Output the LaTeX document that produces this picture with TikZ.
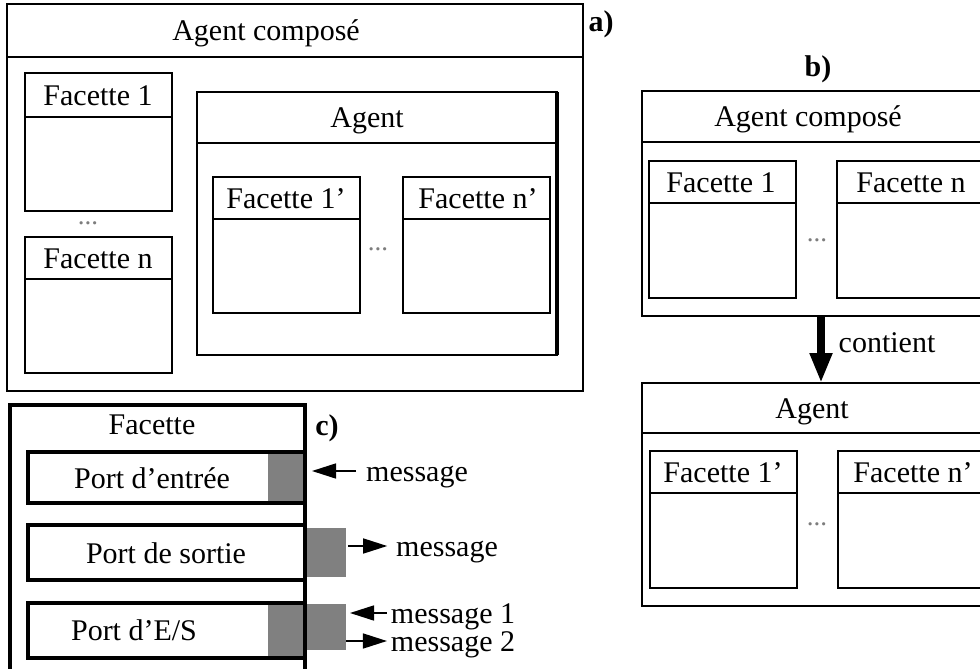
\documentclass[tikz,border=0pt]{standalone}
\usepackage{fontspec}
\setmainfont{Liberation Serif}
\usetikzlibrary{arrows.meta}

\definecolor{portgray}{RGB}{128,128,128}
\definecolor{dotgray}{RGB}{125,125,125}

\tikzset{
  thinbox/.style={draw, rectangle, line width=1.8pt, inner sep=0pt, outer sep=0pt},
  thinline/.style={line width=1.8pt},
  thickbox/.style={draw, rectangle, line width=3.8pt, inner sep=0pt, outer sep=0pt},
  grayblock/.style={rectangle, fill=portgray, inner sep=0pt, outer sep=0pt},
  lbl/.style={inner sep=0pt, outer sep=0pt, text height=20pt, text depth=0pt,
              font=\fontsize{30pt}{36pt}\selectfont},
  tag/.style={lbl, font=\fontsize{30pt}{36pt}\selectfont\bfseries},
  dots/.style={inner sep=0pt, outer sep=0pt, text=dotgray, text height=4pt, text depth=0pt,
               font=\fontsize{27pt}{30pt}\selectfont},
  msgarrow/.style={line width=1.6pt, -{Triangle[length=24pt,width=15pt]}},
  bigarrow/.style={line width=8pt, -{Triangle[length=30pt,width=21pt]}},
}

% a box given by its corners (x1,y1) (x2,y2), with a title band ending at y = #6
% #1 name, #2 x1, #3 y1, #4 x2, #5 y2, #6 title line y, #7 title x, #8 title
\newcommand{\hdrbox}[8]{%
  \node[thinbox, fill=white, minimum width={(#4-#2)*1pt}, minimum height={(#5-#3)*1pt}]
    (#1) at ({(#2+#4)/2},{(#3+#5)/2}) {};
  \draw[thinline] (#1.west |- 0,#6) -- (#1.east |- 0,#6);
  \node[lbl] (#1-title) at (#7,{(#3+#6)/2}) {#8};
}
% a plain rectangle given by its corners, with a style
\newcommand{\cornerbox}[6]{%
  \node[#6, minimum width={(#4-#2)*1pt}, minimum height={(#5-#3)*1pt}]
    (#1) at ({(#2+#4)/2},{(#3+#5)/2}) {};
}

\begin{document}
\begin{tikzpicture}[x=1pt, y=-1pt]
  \useasboundingbox (0,0) rectangle (980,669);
  \fill[white] (0,0) rectangle (980,669);
  \clip (0,0) rectangle (980,669);

  % ---------- a) composed agent holding an agent ----------
  \hdrbox{aOuter}{7}{4}{583}{391}{57}{266}{Agent composé}
  \node[tag] (aTag) at (601,22) {a)};
  \hdrbox{aFa}{25}{73}{172}{211}{117}{98}{Facette 1}
  \node[dots] (aDotsA) at (88,222) {...};
  \hdrbox{aFb}{25}{237}{172}{373}{279}{98}{Facette n}
  \hdrbox{aAgent}{197}{92}{557}{355}{143}{367}{Agent}
  \draw[line width=4pt] (aAgent.north east) -- (aAgent.south east);
  \hdrbox{aFc}{213}{177}{360}{313}{219}{286}{Facette 1’}
  \node[dots] (aDotsB) at (378,248) {...};
  \hdrbox{aFd}{403}{177}{550}{313}{219}{478}{Facette n’}

  % ---------- b) containment ----------
  \node[tag] (bTag) at (818,67) {b)};
  \hdrbox{bOuter}{642}{91}{1000}{316}{142}{808}{Agent composé}
  \hdrbox{bFa}{649}{161}{796}{298}{203}{721}{Facette 1}
  \node[dots] (bDotsA) at (817,239) {...};
  \hdrbox{bFb}{837}{161}{984}{298}{203}{911}{Facette n}

  \hdrbox{bAgent}{642}{383}{1000}{606}{433}{812}{Agent}
  \hdrbox{bFc}{650}{451}{797}{588}{493}{723}{Facette 1’}
  \node[dots] (bDotsB) at (817,523) {...};
  \hdrbox{bFd}{838}{451}{985}{588}{493}{913}{Facette n’}

  \draw[bigarrow] (bOuter.south) -- (bAgent.north);
  \node[lbl] (contient) at (887,342) {contient};

  % ---------- c) facet ports ----------
  \cornerbox{cOuter}{10}{405}{305}{720}{thickbox, fill=white}
  \node[lbl] (cTitle) at (152,424) {Facette};
  \node[tag] (cTag) at (327,425) {c)};

  \cornerbox{gIn}{268}{452}{305}{503}{grayblock}
  \cornerbox{gOut}{306}{528}{346}{577}{grayblock}
  \cornerbox{gIOin}{268}{603}{305}{658}{grayblock}
  \cornerbox{gIO}{306}{604}{346}{650}{grayblock}

  \cornerbox{pIn}{28}{452}{305}{503}{thickbox}
  \cornerbox{pOut}{28}{525}{305}{580}{thickbox}
  \cornerbox{pIO}{28}{603}{305}{658}{thickbox}
  \node[lbl] (pInLbl) at (152,478) {Port d’entrée};
  \node[lbl] (pOutLbl) at (166,553) {Port de sortie};
  \node[lbl] (pIOLbl) at (134,630) {Port d’E/S};

  \node[lbl] (msgIn) at (417,471) {message};
  \node[lbl] (msgOut) at (447,546) {message};
  \node[lbl] (msgA) at (453,613) {message 1};
  \node[lbl] (msgB) at (453,641) {message 2};

  \draw[msgarrow, shorten <=10pt, shorten >=7pt] (msgIn.west) -- (msgIn.west -| pIn.east);
  \draw[msgarrow, shorten <=2pt, shorten >=9pt] (msgOut.west -| gOut.east) -- (msgOut.west);
  \draw[msgarrow, shorten <=4pt, shorten >=4pt] (msgA.west) -- (msgA.west -| gIO.east);
  \draw[msgarrow, shorten >=4pt] (msgB.west -| gIO.east) -- (msgB.west);
\end{tikzpicture}
\end{document}
